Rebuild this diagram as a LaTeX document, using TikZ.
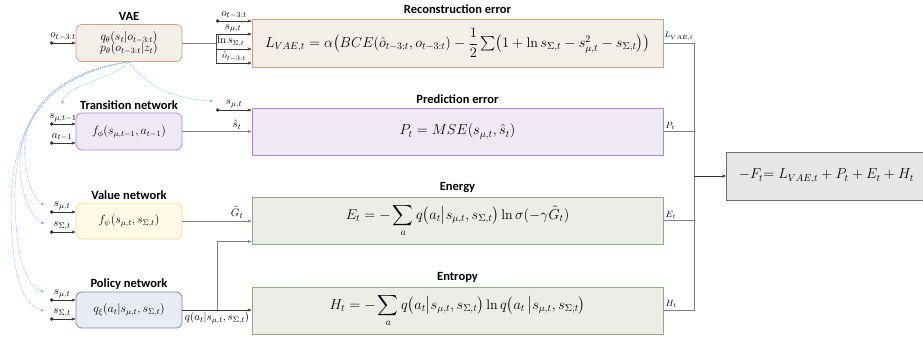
\documentclass[tikz,border=0pt]{standalone}
\usepackage{fontspec}
\usepackage{amsmath}
\usetikzlibrary{arrows.meta,calc}
\newfontfamily\titlefont{Carlito}
\definecolor{vaefill}{HTML}{F3EEE7}\definecolor{vaedraw}{HTML}{C9A383}
\definecolor{trfill}{HTML}{EFE9F6}\definecolor{trdraw}{HTML}{AE86D2}
\definecolor{valfill}{HTML}{FFF9E6}\definecolor{valdraw}{HTML}{F6DB8E}
\definecolor{polfill}{HTML}{E8EBF1}\definecolor{poldraw}{HTML}{7A8BAA}
\definecolor{grfill}{HTML}{EBEDE7}\definecolor{grdraw}{HTML}{93A985}
\definecolor{finfill}{HTML}{E6E6E6}\definecolor{findraw}{HTML}{6E6E6E}
\definecolor{curve}{HTML}{8FB0E6}
\definecolor{wire}{HTML}{808080}
\newcommand{\mybar}{\mathord{\big|}}
\tikzset{
  ttl/.style={font=\titlefont\bfseries\fontsize{12.5}{14}\selectfont, inner sep=0pt},
  netbox/.style={draw, rounded corners=6pt, minimum width=106pt, minimum height=37pt, line width=0.8pt, inner sep=1pt, font=\fontsize{11.5}{13}\selectfont, align=center},
  bigbox/.style={draw, minimum width=411pt, minimum height=47pt, line width=0.8pt, inner sep=1pt, font=\fontsize{14}{16}\selectfont},
  tip/.style={-{Stealth[length=4pt,width=3.2pt]}},
  dotin/.style={{Circle[length=3.4pt]}-{Stealth[length=4pt,width=3.2pt]}, draw=black!80, line width=0.6pt},
  plainin/.style={tip, draw=black!80, line width=0.6pt},
  outw/.style={draw=wire, line width=0.9pt},
  lbl/.style={font=\fontsize{11}{12}\selectfont, inner sep=0.5pt},
  blue dots/.style={draw=curve, dash pattern=on 1.2pt off 1pt, line width=0.5pt, -{Stealth[length=3.5pt,width=3pt]}},
}
\begin{document}
\begin{tikzpicture}[x=1pt,y=-1pt]
\useasboundingbox (0,0) rectangle (923,339);

% boxes
\node[netbox, fill=vaefill, draw=vaedraw] (vae) at (129,43) {$q_\theta(s_t|o_{t-3:t})$\\[-2pt]$p_\theta(o_{t-3:t}|z_t)$};
\node[ttl] (vaet) at (129,16) {VAE};
\node[netbox, fill=trfill, draw=trdraw] (trans) at (129,131.5) {$f_\phi(s_{\mu,t-1},a_{t-1})$};
\node[ttl] (transt) at (129,105) {Transition network};
\node[netbox, fill=valfill, draw=valdraw, minimum height=36pt] (value) at (129,221) {$f_\psi(s_{\mu,t},s_{\Sigma,t})$};
\node[ttl] (valuet) at (129,195) {Value network};
\node[netbox, fill=polfill, draw=poldraw, minimum height=36pt] (policy) at (129,310) {$q_\xi(a_t|s_{\mu,t},s_{\Sigma,t})$};
\node[ttl] (policyt) at (129,284) {Policy network};

\node[bigbox, fill=vaefill, draw=vaedraw, minimum height=48pt] (recon) at (457.5,43)
  {$L_{VAE,t}=\alpha\bigl(BCE(\hat o_{t-3:t},o_{t-3:t})-\dfrac{1}{2}\sum\nolimits\bigl(1+\ln s_{\Sigma,t}-s_{\mu,t}^{2}-s_{\Sigma,t}\bigr)\bigr)$};
\node[ttl] (recont) at (457.5,9) {Reconstruction error};
\node[bigbox, fill=trfill, draw=trdraw] (pred) at (457.5,131.5) {$P_t=MSE(s_{\mu,t},\hat s_t)$};
\node[ttl] (predt) at (457.5,99) {Prediction error};
\node[bigbox, fill=grfill, draw=grdraw] (energy) at (457.5,220.5)
  {$\displaystyle E_t=-\sum_{a} q\bigl(a_t\mybar s_{\mu,t},s_{\Sigma,t}\bigr)\ln\sigma(-\gamma\tilde G_t)$};
\node[ttl] (energyt) at (457.5,188) {Energy};
\node[bigbox, fill=grfill, draw=grdraw] (entropy) at (457.5,310.5)
  {$\displaystyle H_t=-\sum_{a} q\bigl(a_t\mybar s_{\mu,t},s_{\Sigma,t}\bigr)\ln q\bigl(a_t\,\mybar s_{\mu,t},s_{\Sigma,t}\bigr)$};
\node[ttl] (entropyt) at (457.5,277) {Entropy};
\node[draw=findraw, fill=finfill, line width=0.8pt, minimum width=200pt, minimum height=48pt, anchor=west, font=\fontsize{14}{16}\selectfont, inner sep=0pt] (final) at (726,176)
  {$-F_t{=}\;L_{VAE,t}+P_t+E_t+H_t$};

% VAE input
\coordinate (vin) at (50,43);
\draw[dotin] (vin) -- (vae.west);
\node[lbl, anchor=south] at (63,41) {$o_{t-3:t}$};

% VAE outputs to reconstruction
\coordinate (splitT) at (216,34);
\coordinate (splitB) at (216,63);
\coordinate (oin) at (216,21);
\draw[outw] (vae.east) -- (vae.east -| splitT);
\draw[draw=black!70, line width=0.6pt] (splitT) -- (splitB);
\draw[dotin] (oin) -- (oin -| recon.west);
\node[lbl, anchor=south] at (234,19.5) {$o_{t-3:t}$};
\draw[plainin] (splitT) -- (splitT -| recon.west);
\node[lbl, anchor=south] at (233,33) {$s_{\mu,t}$};
\coordinate (lnc) at (216,49);
\draw[plainin] (lnc) -- (lnc -| recon.west);
\node[lbl, anchor=west, font=\fontsize{10.5}{11}\selectfont] at (216.5,41.5) {$\ln s_{\Sigma,t}$};
\draw[plainin] (splitB) -- (splitB -| recon.west);
\node[lbl, anchor=south, font=\fontsize{10}{11}\selectfont] at (234,62) {$\hat o_{t-3:t}$};

% transition inputs
\coordinate (tin1) at (50,124);
\coordinate (tin2) at (50,143);
\draw[dotin] (tin1) -- (tin1 -| trans.west);
\node[lbl, anchor=south] at (63,122.5) {$s_{\mu,t-1}$};
\draw[dotin] (tin2) -- (tin2 -| trans.west);
\node[lbl, anchor=south] at (62,141.5) {$a_{t-1}$};
\draw[outw, tip] (trans.east) -- (trans.east -| pred.west);
\node[lbl, anchor=south] at (237,130) {$\hat s_t$};
\coordinate (pin) at (216,110);
\draw[dotin] (pin) -- (pin -| pred.west);
\node[lbl, anchor=south] at (234,108.5) {$s_{\mu,t}$};

% value inputs
\coordinate (vin1) at (50,212);
\coordinate (vin2) at (50,232);
\draw[dotin] (vin1) -- (vin1 -| value.west);
\node[lbl, anchor=south] at (62,210.5) {$s_{\mu,t}$};
\draw[dotin] (vin2) -- (vin2 -| value.west);
\node[lbl, anchor=south] at (62,230.5) {$s_{\Sigma,t}$};
\draw[outw, tip] (value.east) -- (value.east -| energy.west);
\node[lbl, anchor=south] at (237,219) {$\tilde G_t$};

% policy inputs
\coordinate (qin1) at (50,300);
\coordinate (qin2) at (50,319);
\draw[dotin] (qin1) -- (qin1 -| policy.west);
\node[lbl, anchor=south] at (62,298.5) {$s_{\mu,t}$};
\draw[dotin] (qin2) -- (qin2 -| policy.west);
\node[lbl, anchor=south] at (62,317.5) {$s_{\Sigma,t}$};
\draw[outw, tip, draw=black!80] (policy.east) -- (policy.east -| entropy.west);
\node[lbl, anchor=north] at (217,312) {$q(a_t|s_{\mu,t},s_{\Sigma,t})$};
\coordinate (br) at (217,310);
\coordinate (brT) at (217,241.5);
\draw[outw, tip] (br) -- (brT) -- (brT -| energy.west);

% bus to final
\coordinate (busT) at (694,43);
\coordinate (busB) at (694,310.5);
\draw[outw] (recon.east) -- (busT) -- (busB) -- (entropy.east);
\draw[outw] (pred.east) -- (pred.east -| busT);
\draw[outw] (energy.east) -- (energy.east -| busT);
\draw[plainin] (final.west -| busT) -- (final.west);
\node[lbl, anchor=south west, font=\fontsize{8.5}{9}\selectfont] at (664,41) {$L_{VAE,t}$};
\node[lbl, anchor=south west, font=\fontsize{9}{10}\selectfont] at (665,130) {$P_t$};
\node[lbl, anchor=south west, font=\fontsize{9}{10}\selectfont] at (665,219) {$E_t$};
\node[lbl, anchor=south west, font=\fontsize{9}{10}\selectfont] at (665,308.5) {$H_t$};

% blue dotted curves from VAE
\coordinate (a1) at (62,104);
\coordinate (a2) at (213,101);
\coordinate (a3) at (44,205);
\coordinate (a4) at (44,224);
\coordinate (a5) at (44,292);
\coordinate (a6) at (44,311);
\draw[blue dots] (vae.south) .. controls (112,80) and (66,84) .. (a1);
\draw[blue dots] (vae.south) .. controls (150,92) and (185,100) .. (a2);
\draw[blue dots] (vae.south) .. controls (60,70) and (20,110) .. (25,160) .. controls (28,190) and (36,200) .. (a3);
\draw[blue dots] (vae.south) .. controls (55,72) and (17,115) .. (20,170) .. controls (23,205) and (34,218) .. (a4);
\draw[blue dots] (vae.south) .. controls (50,74) and (14,120) .. (15,200) .. controls (16,270) and (30,287) .. (a5);
\draw[blue dots] (vae.south) .. controls (45,76) and (11,125) .. (11,210) .. controls (12,290) and (28,306) .. (a6);
\end{tikzpicture}
\end{document}
